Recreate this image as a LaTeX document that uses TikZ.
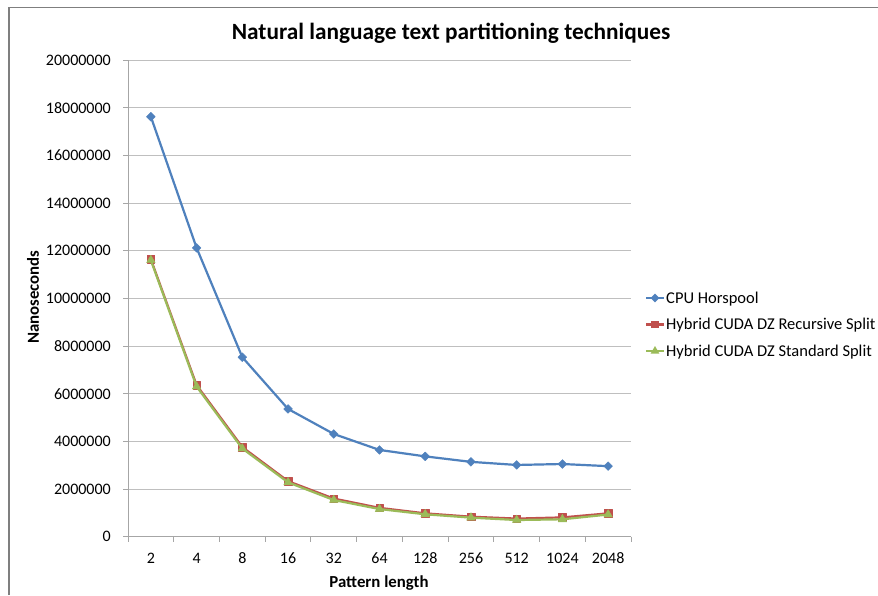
\documentclass[tikz,border=0pt]{standalone}
\usepackage{fontspec}
\setmainfont{Carlito}
\usetikzlibrary{plotmarks}

\definecolor{cpublue}{HTML}{4F81BD}
\definecolor{recred}{HTML}{C0504D}
\definecolor{stdgreen}{HTML}{9BBB59}
\definecolor{gridgray}{HTML}{BFBFBF}
\definecolor{axisgray}{HTML}{A6A6A6}
\definecolor{framegray}{HTML}{7F7F7F}

\tikzset{
  frameline/.style={draw=framegray, line width=1.6pt},
  gridline/.style={draw=gridgray, line width=1pt},
  axisline/.style={draw=axisgray, line width=1pt},
  ticklabel/.style={font=\fontsize{16}{18}\selectfont, inner sep=0pt},
  axistitle/.style={font=\fontsize{16.8}{19}\selectfont\bfseries, inner sep=0pt},
  charttitle/.style={font=\fontsize{23.3}{27}\selectfont\bfseries, inner sep=0pt},
  legendtext/.style={font=\fontsize{16.5}{19}\selectfont, inner sep=0pt, anchor=base west},
  cpuline/.style={draw=cpublue, line width=2.2pt, line join=round,
    mark=square*, mark size=3.1pt, mark options={fill=cpublue, draw=cpublue, line width=0.4pt, rotate=45}},
  recline/.style={draw=recred, line width=2.2pt, line join=round,
    mark=square*, mark size=3.8pt, mark options={fill=recred, draw=recred, line width=0.4pt}},
  stdline/.style={draw=stdgreen, line width=2.2pt, line join=round,
    mark=triangle*, mark size=5pt, mark options={fill=stdgreen, draw=stdgreen, line width=0.4pt}},
}

\begin{document}
\begin{tikzpicture}[x=1pt, y=-1pt]
  \useasboundingbox (0,0) rectangle (878,595);
  \fill[white] (0,0) rectangle (878,595);

  % chart frame (top and left edges)
  \draw[frameline] (9,595) -- (9,7.5) -- (878,7.5);

  % title
  \node[charttitle, anchor=base] (title) at (451,39.5) {Natural language text partitioning techniques};

  % horizontal gridlines and value labels
  \foreach \v in {2,4,...,20} {
    \draw[gridline] (128,{536.7-23.835*\v}) -- (631,{536.7-23.835*\v});
  }
  \foreach \v/\lab in {0/0,2/2000000,4/4000000,6/6000000,8/8000000,10/10000000,
                      12/12000000,14/14000000,16/16000000,18/18000000,20/20000000} {
    \draw[axisline] (123,{536.7-23.835*\v}) -- (128,{536.7-23.835*\v});
    \node[ticklabel, anchor=east] (ylab\v) at (111,{536.7-23.835*\v}) {\lab};
  }

  % axes
  \draw[axisline] (128,60) -- (128,536.7) -- (631,536.7);
  \foreach \i in {0,...,11} {
    \draw[axisline] ({128+45.727*\i},536.7) -- ({128+45.727*\i},541.5);
  }
  \foreach \lab [count=\i from 0] in {2,4,8,16,32,64,128,256,512,1024,2048} {
    \node[ticklabel, anchor=base] (xlab\i) at ({128+45.727*(\i+0.5)},563) {\lab};
  }

  % axis titles
  \node[axistitle, anchor=base] (xtitle) at (379,587) {Pattern length};
  \node[axistitle, rotate=90] (ytitle) at (33,297) {Nanoseconds};

  % data series: x = category index + 0.5, y = millions of nanoseconds
  \begin{scope}[shift={(128,536.7)}, x=45.727pt, y=23.835pt]
    \draw[cpuline] plot coordinates {
      (0.5,17.62) (1.5,12.12) (2.5,7.53) (3.5,5.36) (4.5,4.31) (5.5,3.64)
      (6.5,3.37) (7.5,3.14) (8.5,3.01) (9.5,3.05) (10.5,2.96)};
    \draw[recline] plot coordinates {
      (0.5,11.64) (1.5,6.36) (2.5,3.76) (3.5,2.33) (4.5,1.60) (5.5,1.21)
      (6.5,0.98) (7.5,0.84) (8.5,0.76) (9.5,0.81) (10.5,0.98)};
    \draw[stdline] plot coordinates {
      (0.5,11.60) (1.5,6.30) (2.5,3.70) (3.5,2.28) (4.5,1.54) (5.5,1.16)
      (6.5,0.94) (7.5,0.80) (8.5,0.70) (9.5,0.73) (10.5,0.93)};
  \end{scope}

  % legend
  \draw[cpuline, mark=none] (646,298) -- (664,298);
  \fill[cpublue] (655,293.6) -- (659.4,298) -- (655,302.4) -- (650.6,298) -- cycle;
  \node[legendtext] (leg1) at (666,303) {CPU Horspool};
  \draw[recline, mark=none] (646,324.5) -- (664,324.5);
  \fill[recred] (651.2,320.7) rectangle (658.8,328.3);
  \node[legendtext] (leg2) at (666,329.5) {Hybrid CUDA DZ Recursive Split};
  \draw[stdline, mark=none] (646,351) -- (664,351);
  \fill[stdgreen] (655,346) -- (659.3,353.5) -- (650.7,353.5) -- cycle;
  \node[legendtext] (leg3) at (666,356.5) {Hybrid CUDA DZ Standard Split};
\end{tikzpicture}
\end{document}
